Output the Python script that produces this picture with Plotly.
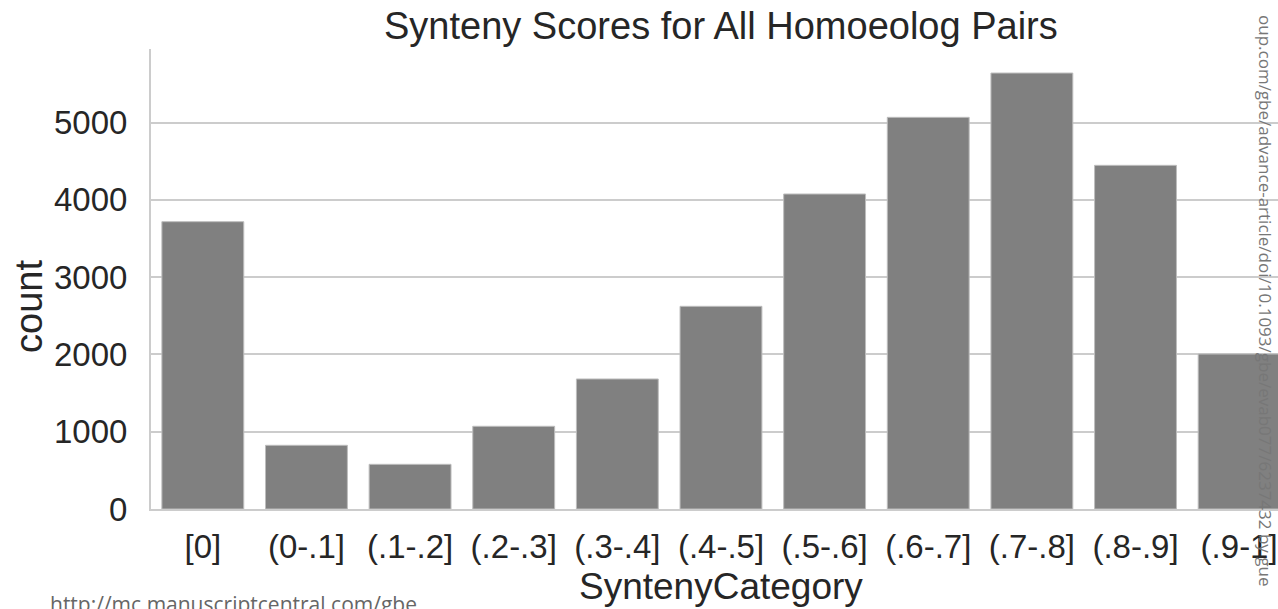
import plotly.graph_objects as go

categories = ["[0]", "(0-.1]", "(.1-.2]", "(.2-.3]", "(.3-.4]", "(.4-.5]",
              "(.5-.6]", "(.6-.7]", "(.7-.8]", "(.8-.9]", "(.9-1]"]
counts = [3717, 824, 578, 1070, 1682, 2622, 4075, 5067, 5640, 4446, 2005]
y_ticks = [0, 1000, 2000, 3000, 4000, 5000]

title_text = "Synteny Scores for All Homoeolog Pairs"
x_title = "SyntenyCategory"
y_title = "count"
watermark_bottom = "http://mc.manuscriptcentral.com/gbe"
watermark_side = "oup.com/gbe/advance-article/doi/10.1093/gbe/evab077/6237432 by gue"

FONT = "Liberation Sans, Arial, sans-serif"
TXT = "#262626"

fig = go.Figure()
fig.add_trace(go.Bar(
    x=list(range(len(categories))), y=counts, width=0.79,
    marker=dict(color="#808080", line=dict(color="#bdbdbd", width=1)),
    hoverinfo="skip",
))

W, H = 1278, 609
L, R, T, B = 151, 0, 49, 100

fig.update_layout(
    template="none",
    width=W, height=H, autosize=False,
    margin=dict(l=L, r=R, t=T, b=B, pad=0, autoexpand=False),
    paper_bgcolor="white", plot_bgcolor="white",
    showlegend=False,
    font=dict(family=FONT, color=TXT),
    xaxis=dict(
        automargin=False,
        range=[-0.5, 10.375], tickmode="array",
        tickvals=list(range(len(categories))), ticktext=categories,
        showgrid=False, zeroline=False, showline=True,
        linecolor="#cccccc", linewidth=2, ticks="",
        tickfont=dict(size=33, color=TXT, family=FONT),
        ticklabelstandoff=7,
    ),
    yaxis=dict(
        automargin=False,
        range=[0, 5951], tickmode="array", tickvals=y_ticks,
        showgrid=True, gridcolor="#cccccc", gridwidth=1.5,
        zeroline=False, showline=True, linecolor="#cccccc", linewidth=2,
        ticks="", tickfont=dict(size=33, color=TXT, family=FONT),
        ticklabelstandoff=15,
    ),
)

def py(p):
    return (H - B - p) / (H - T - B)

def px(p):
    return (p - L) / (W - L - R)

fig.add_annotation(text=title_text, xref="x", yref="paper", x=5, y=py(26),
                   showarrow=False, xanchor="center", yanchor="middle",
                   font=dict(size=38, color=TXT, family=FONT))
fig.add_annotation(text=x_title, xref="x", yref="paper", x=5, y=py(586),
                   showarrow=False, xanchor="center", yanchor="middle",
                   font=dict(size=37, color=TXT, family=FONT))
fig.add_annotation(text=y_title, xref="paper", yref="paper",
                   x=px(29), y=py(307),
                   showarrow=False, xanchor="center", yanchor="middle",
                   textangle=-90, font=dict(size=38, color=TXT, family=FONT))
fig.add_annotation(text=watermark_bottom, xref="paper", yref="paper",
                   x=px(48), y=py(588),
                   showarrow=False, xanchor="left", yanchor="top",
                   font=dict(size=21, color="#666666", family="Open Sans, sans-serif"))
fig.add_annotation(text=watermark_side, xref="paper", yref="paper",
                   x=px(1266), y=py(300),
                   showarrow=False, xanchor="center", yanchor="middle",
                   textangle=90, font=dict(size=17, color="#777777", family="Open Sans, sans-serif"))

fig.write_html("out.html", config={"displayModeBar": False},
               post_script="document.body.style.margin='0';document.body.style.overflow='hidden';")
